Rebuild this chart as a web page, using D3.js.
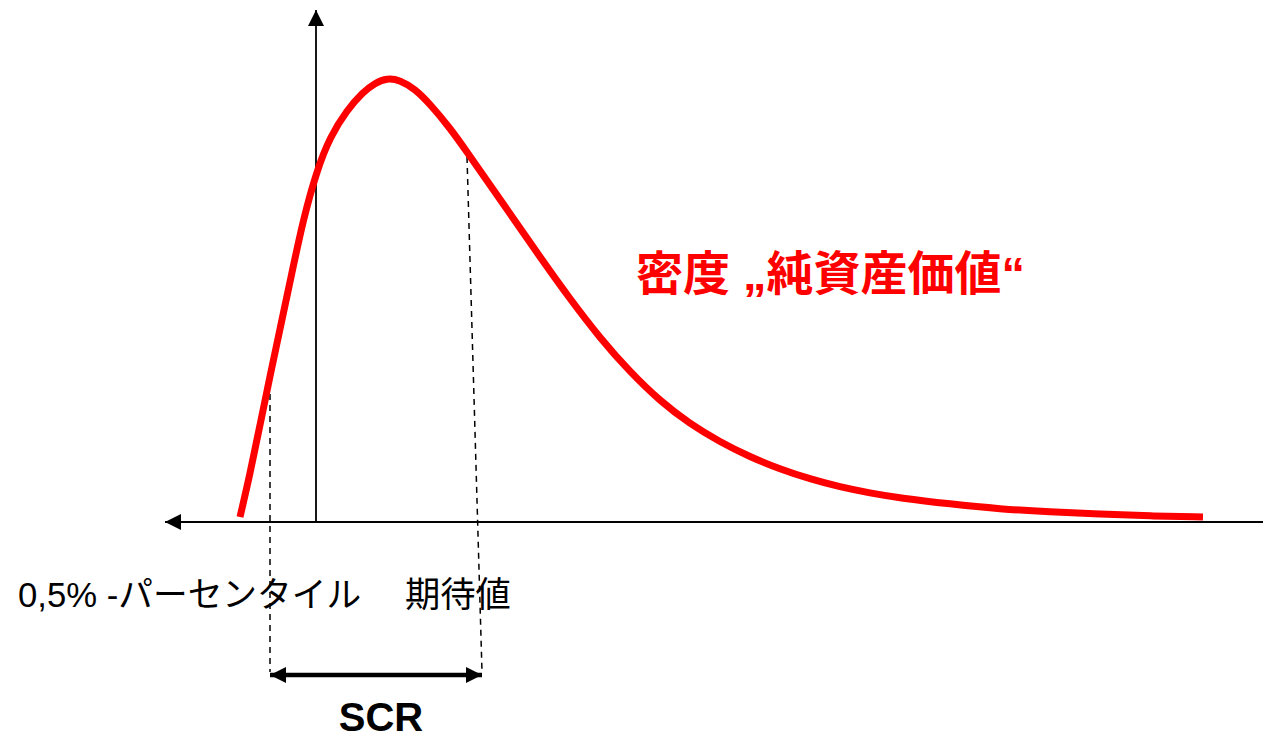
<!DOCTYPE html>
<html><head><meta charset="utf-8">
<script src="https://cdn.jsdelivr.net/npm/d3@7"></script>
<style>html,body{margin:0;padding:0;background:#fff;}svg{display:block;}</style>
</head><body>
<svg id="c" width="1263" height="734"></svg>
<script>
// Net asset value (x) and density (y)
const curveX = [-0.76,-0.66,-0.56,-0.46,-0.36,-0.26,-0.13,0.01,0.14,0.31,0.47,0.59,0.71,0.84,0.99,1.14,1.34,1.51,1.74,1.97,2.24,2.54,2.84,3.14,3.44,3.74,4.04,4.34,4.64,4.94,5.24,5.54,5.84,6.34,6.84,7.34,7.84,8.34,8.87];
const curveY = [0.05,0.48,0.97,1.46,1.93,2.40,3.02,3.52,3.85,4.12,4.30,4.39,4.44,4.42,4.33,4.18,3.94,3.70,3.37,3.04,2.65,2.23,1.84,1.50,1.21,0.98,0.80,0.65,0.53,0.43,0.35,0.29,0.24,0.18,0.13,0.10,0.08,0.06,0.05];
const percentileX = -0.46, percentileDensity = 1.50;
const expectedTopX = 1.51, expectedBottomX = 1.66, expectedDensity = 3.65;
const labels = {curve: "密度 „純資産価値“", percentile: "0,5% -パーセンタイル", expected: "期待値", scr: "SCR"};

const svg = d3.select("#c");
const x = d3.scaleLinear().domain([-1.51, 9.47]).range([165, 1263]);
const y = d3.scaleLinear().domain([0, 5.12]).range([522, 10]);
const below = -1.5, arrowY = -1.53;

const defs = svg.append("defs");
function marker(id, size){
  defs.append("marker").attr("id", id).attr("viewBox","0 0 10 10").attr("refX",10).attr("refY",5)
    .attr("markerWidth", size).attr("markerHeight", size).attr("markerUnits","userSpaceOnUse")
    .attr("orient","auto-start-reverse")
    .append("path").attr("d","M0,0 L10,5 L0,10 Z").attr("fill","#000");
}
marker("ax", 16);
marker("scr", 16);

// axes
svg.append("line").attr("x1", x(9.47)).attr("y1", y(0)).attr("x2", x(-1.51)).attr("y2", y(0))
  .attr("stroke","#000").attr("stroke-width",1.8).attr("marker-end","url(#ax)");
svg.append("line").attr("x1", x(0)).attr("y1", y(0)).attr("x2", x(0)).attr("y2", y(5.12))
  .attr("stroke","#000").attr("stroke-width",1.8).attr("marker-end","url(#ax)");

// dashed guides
svg.append("line").attr("x1", x(percentileX)).attr("y1", y(percentileDensity)).attr("x2", x(percentileX)).attr("y2", y(below))
  .attr("stroke","#000").attr("stroke-width",1.5).attr("stroke-dasharray","6,5");
svg.append("line").attr("x1", x(expectedTopX)).attr("y1", y(expectedDensity)).attr("x2", x(expectedBottomX)).attr("y2", y(below))
  .attr("stroke","#000").attr("stroke-width",1.5).attr("stroke-dasharray","6,5");

// curve
const pts = curveX.map((v,i)=>[v, curveY[i]]);
svg.append("path").datum(pts)
  .attr("d", d3.line().x(d=>x(d[0])).y(d=>y(d[1])).curve(d3.curveBasis))
  .attr("fill","none").attr("stroke","#ff0000").attr("stroke-width",7);

// SCR arrow
svg.append("line").attr("x1", x(percentileX)).attr("y1", y(arrowY)).attr("x2", x(expectedBottomX)).attr("y2", y(arrowY))
  .attr("stroke","#000").attr("stroke-width",4.5).attr("marker-end","url(#scr)").attr("marker-start","url(#scr)");

const ff = "'Liberation Sans', Arial, 'Noto Sans CJK JP', sans-serif";
svg.append("text").attr("x", 381).attr("y", 731)
  .attr("text-anchor","middle").attr("font-family",ff).attr("font-weight","bold").attr("font-size",40).text(labels.scr);
svg.append("text").attr("x", 18).attr("y", 607)
  .attr("font-family",ff).attr("font-size",34.7).text(labels.percentile);
svg.append("text").attr("x", 405).attr("y", 607)
  .attr("font-family",ff).attr("font-size",35.3).text(labels.expected);
svg.append("text").attr("x", 636).attr("y", 290)
  .attr("font-family",ff).attr("font-weight","bold").attr("font-size",47).attr("fill","#ff0000").text(labels.curve);
</script>
</body></html>
